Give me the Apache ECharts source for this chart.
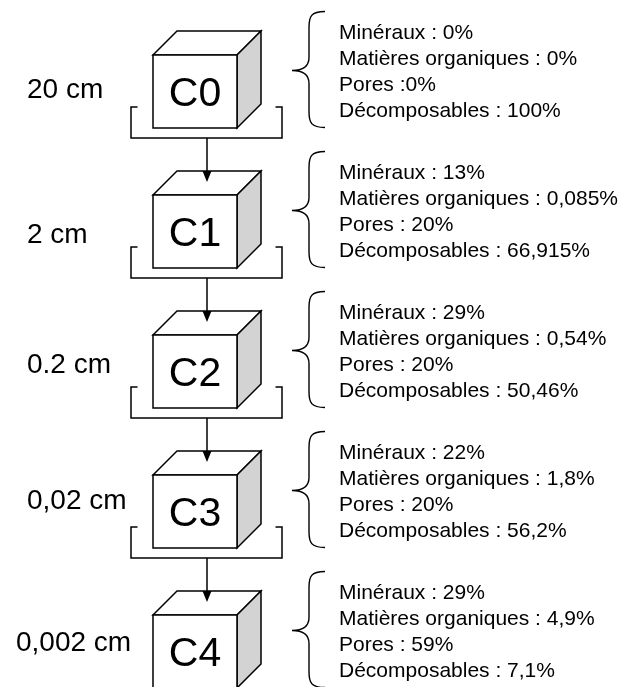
<!DOCTYPE html>
<html>
<head>
<meta charset="utf-8">
<script src="https://cdn.jsdelivr.net/npm/echarts@6/dist/echarts.min.js"></script>
<style>
  html, body { margin: 0; padding: 0; background: #fff; }
  #chart { width: 624px; height: 687px; }
</style>
</head>
<body>
<div id="chart"></div>
<script>
(function() {
  // --- data ---
  var levels = ['C0', 'C1', 'C2', 'C3', 'C4'];
  var sizes = ['20 cm', '2 cm', '0.2 cm', '0,02 cm', '0,002 cm'];
  var mineraux = [0, 13, 29, 22, 29];
  var organiques = [0, 0.085, 0.54, 1.8, 4.9];
  var pores = [0, 20, 20, 20, 59];
  var decomposables = [100, 66.915, 50.46, 56.2, 7.1];

  // --- layout (pixels relative to each box centre) ---
  var colX = 207;          // x of the box column
  var textX = 339;         // left edge of the composition text
  var sizeNudge = [[27, -1.5], [27, 3.5], [27, -6.5], [27, -10], [16, -8.5]];
  var font = '"Liberation Sans", Arial, sans-serif';
  var ink = '#000';
  var shade = '#d3d3d3';

  function pct(v) { return String(v).replace('.', ',') + '%'; }

  var chart = echarts.init(document.getElementById('chart'), null, { renderer: 'canvas' });

  function renderItem(params, api) {
    var i = api.value(1);
    var p = api.coord([colX, i]);
    var cx = p[0], cy = p[1];
    var lw = 1.5;
    var kids = [];

    // box
    var fl = cx - 54, fr = cx + 30, ft = cy - 36.5, fb = cy + 36.5, d = 24;
    kids.push({ type: 'polygon', shape: { points: [[fl, ft], [fl + d, ft - d], [fr + d, ft - d], [fr, ft]] },
      style: { fill: '#fff', stroke: ink, lineWidth: lw, lineJoin: 'miter' } });
    kids.push({ type: 'polygon', shape: { points: [[fr, ft], [fr + d, ft - d], [fr + d, fb - d], [fr, fb]] },
      style: { fill: shade, stroke: ink, lineWidth: lw, lineJoin: 'miter' } });
    kids.push({ type: 'rect', shape: { x: fl, y: ft, width: fr - fl, height: fb - ft },
      style: { fill: '#fff', stroke: ink, lineWidth: lw } });
    kids.push({ type: 'text', style: { text: levels[i], x: (fl + fr) / 2, y: cy + 3,
      font: '41px ' + font, fill: ink, align: 'center', verticalAlign: 'middle' } });

    // bracket under the box (the last one falls below the picture)
    var bl = cx - 76, br = cx + 75, bt = cy + 15.5, bb = cy + 46.5;
    if (i < levels.length - 1) {
      kids.push({ type: 'polyline', shape: { points: [[bl + 6.5, bt], [bl, bt], [bl, bb], [br, bb], [br, bt], [br - 6.5, bt]] },
        style: { fill: null, stroke: ink, lineWidth: lw } });
    }

    // arrow from the previous bracket, drawn over this box
    if (i > 0) {
      var q = api.coord([colX, i - 1]);
      var from = q[1] + 46.5, tip = cy - 49.5, base = cy - 60.5;
      kids.push({ type: 'line', shape: { x1: cx, y1: from, x2: cx, y2: base },
        style: { stroke: ink, lineWidth: lw } });
      kids.push({ type: 'polygon', shape: { points: [[cx - 4.5, base], [cx + 4.5, base], [cx, tip]] },
        style: { fill: ink } });
    }

    // size label
    var n = sizeNudge[i];
    kids.push({ type: 'text', style: { text: sizes[i], x: n[0], y: cy + n[1],
      font: '28px ' + font, fill: ink, align: 'left', verticalAlign: 'middle' } });

    // curly brace
    var xt = 292, xv = 309, xe = 325;
    var yt = cy - 80, ym = cy - 21, yb = cy + 36;
    var path = 'M' + xe + ' ' + yt +
      ' C' + (xv + 2) + ' ' + yt + ' ' + xv + ' ' + (yt + 5) + ' ' + xv + ' ' + (yt + 16) +
      ' L' + xv + ' ' + (ym - 13) +
      ' C' + xv + ' ' + (ym - 3) + ' ' + (xv - 8) + ' ' + ym + ' ' + xt + ' ' + ym +
      ' C' + (xv - 8) + ' ' + ym + ' ' + xv + ' ' + (ym + 3) + ' ' + xv + ' ' + (ym + 13) +
      ' L' + xv + ' ' + (yb - 16) +
      ' C' + xv + ' ' + (yb - 5) + ' ' + (xv + 2) + ' ' + yb + ' ' + xe + ' ' + yb;
    kids.push({ type: 'path', shape: { pathData: path }, style: { fill: null, stroke: ink, lineWidth: 1.4 } });

    // composition text
    var lines = [
      'Minéraux : ' + pct(mineraux[i]),
      'Matières organiques : ' + pct(organiques[i]),
      (i === 0 ? 'Pores :' : 'Pores : ') + pct(pores[i]),   // the first box has no space in the source
      'Décomposables : ' + pct(decomposables[i])
    ];
    lines.forEach(function(t, k) {
      kids.push({ type: 'text', style: { text: t, x: textX, y: cy - 58.5 + 26 * k,
        font: '21px ' + font, fill: ink, align: 'left', verticalAlign: 'middle' } });
    });

    return { type: 'group', children: kids };
  }

  chart.setOption({
    animation: false,
    grid: { left: 0, right: 0, top: 0, bottom: 0 },
    xAxis: { type: 'value', min: 0, max: 624, show: false },
    yAxis: { type: 'value', inverse: true, min: -0.65357, max: 4.25357, show: false },
    series: [{
      type: 'custom',
      renderItem: renderItem,
      clip: false,
      data: levels.map(function(c, i) { return [colX, i]; })
    }]
  });

  window.addEventListener('resize', function() { chart.resize(); });
})();
</script>
</body>
</html>
